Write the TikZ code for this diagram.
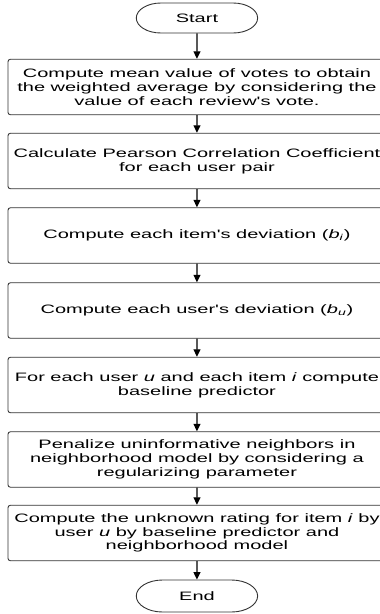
\documentclass[tikz,border=0pt]{standalone}
\usepackage{fontspec}
\setmainfont{Liberation Sans}
\usetikzlibrary{shapes.misc,arrows.meta}

\tikzset{
  % the whole chart is drawn wide: nodes are stretched along x
  stepbox/.style={draw=black!80, line width=0.9pt, rectangle, rounded corners=2.5pt,
    minimum width=230.5pt, minimum height=55.5pt, inner sep=0pt, align=center,
    transform shape, font=\fontsize{12.2}{13.8}\selectfont},
  terminal/.style={draw=black!80, line width=0.9pt, rounded rectangle,
    minimum width=74pt, minimum height=30pt, inner sep=0pt,
    transform shape, font=\fontsize{12.2}{13.8}\selectfont},
  flow/.style={line width=1.3pt, -{Triangle[length=7.5pt,width=7pt]}}
}

\begin{document}
\begin{tikzpicture}[x=1pt,y=-1pt]
\path[use as bounding box, clip] (0,0) rectangle (380,614);

\begin{scope}[xscale=1.64]
  \node[terminal] (start) at (120.1,18) {Start};
  \node[stepbox] (s1) at (120.1,87)
    {Compute mean value of votes to obtain\\the weighted average by considering the\\value of each review\textquotesingle s vote.};
  \node[stepbox] (s2) at (120.1,161)
    {Calculate Pearson Correlation Coefficient\\for each user pair};
  \node[stepbox] (s3) at (120.1,235.5)
    {Compute each item\textquotesingle s deviation (\textit{b}\textsubscript{\textit{i}})};
  \node[stepbox] (s4) at (120.1,310.5)
    {Compute each user\textquotesingle s deviation (\textit{b}\textsubscript{\textit{u}})};
  \node[stepbox] (s5) at (120.1,385)
    {For each user \textit{u} and each item \textit{i} compute\\baseline predictor};
  \node[stepbox] (s6) at (120.1,459.5)
    {Penalize uninformative neighbors in\\neighborhood model by considering a\\regularizing parameter};
  \node[stepbox] (s7) at (120.1,533)
    {Compute the unknown rating for item \textit{i} by\\user \textit{u} by baseline predictor and\\neighborhood model};
  \node[terminal, minimum height=32pt] (end) at (120.1,596) {End};
\end{scope}

\draw[flow] (start) -- (s1);
\draw[flow] (s1) -- (s2);
\draw[flow] (s2) -- (s3);
\draw[flow] (s3) -- (s4);
\draw[flow] (s4) -- (s5);
\draw[flow] (s5) -- (s6);
\draw[flow] (s6) -- (s7);
\draw[flow] (s7) -- (end);
\end{tikzpicture}
\end{document}
